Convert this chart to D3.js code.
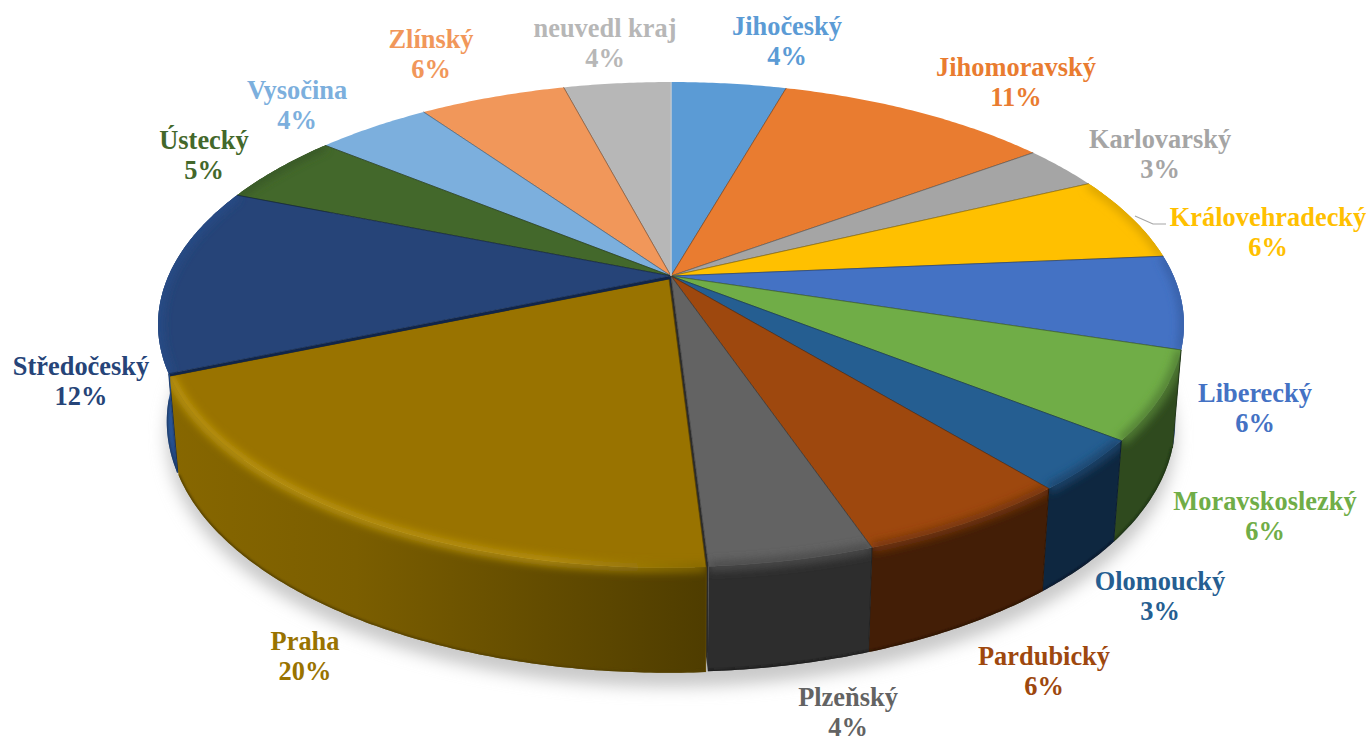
<!DOCTYPE html>
<html><head><meta charset="utf-8">
<script src="https://cdnjs.cloudflare.com/ajax/libs/d3/7.8.5/d3.min.js"></script>
<style>html,body{margin:0;padding:0;background:#fff;overflow:hidden}svg{display:block}</style>
</head><body><div id="chart"></div>
<script>
const categories=["Jihočeský","Jihomoravský","Karlovarský","Královehradecký","Liberecký","Moravskoslezký","Olomoucký","Pardubický","Plzeňský","Praha","Středočeský","Ústecký","Vysočina","Zlínský","neuvedl kraj"];
const shares=[4.4,10.5,3.0,5.7,6.2,5.8,3.4,5.7,4.3,19.6,12.4,4.8,4.4,5.6,4.1];
const topColors=["#5b9bd5","#e97c30","#a5a5a5","#ffc000","#4472c4","#70ad47","#255e91","#9e480e","#636363","#997300","#264478","#43682b","#7cafdd","#f1975a","#b7b7b7"];
const wallColors=["#3a6a95","#a05520","#707070","#b08500","#2a4a85","#2f4a1e","#0e2740","#431e06","#2d2d2d","#7f6000","#2a5596","#2c4520","#5a80a5","#a06a40","#808080"];
const labelCentres=[[787,36],[1016,77],[1160,149],[1268,227],[1255,403],[1265,511],[1160,591],[1044,666],[848,707],[305,651],[81,376],[204,150],[297,100],[431,49],[605,38]];

const W=1372,H=742,cx=671,cy=276,k=0.2,A=502.6,B=232.8;
const sx=d3.scaleLinear().domain([-1,1]).range([cx-A,cx+A]);
const sy=d3.scaleLinear().domain([-1,1]).range([cy+B,cy-B]);
const pie=d3.pie().sort(null).value(d=>d)(shares);
const TAU=Math.PI*2;
function topPt(a,r=1){const X=r*Math.sin(a),Y=r*Math.cos(a),w=1+k*Y;return [sx(X/w),sy(Y/w)];}
function botPt(a,r=1){const [x,y]=topPt(a,r);const Y=r*Math.cos(a);return [cx+(x-cx)*0.983,y+95-10*Y];}
const line=d3.line();
function arcPts(f,a0,a1,r=1){const n=Math.max(4,Math.ceil((a1-a0)/0.01));return d3.range(n+1).map(i=>f(a0+(a1-a0)*i/n,r));}
const svg=d3.select("#chart").append("svg").attr("width",W).attr("height",H);
const defs=svg.append("defs");
[["b1",1],["b3",4],["b9",8]].forEach(([id,s])=>{
  defs.append("filter").attr("id",id).attr("filterUnits","userSpaceOnUse")
    .attr("x",0).attr("y",0).attr("width",W).attr("height",H)
    .append("feGaussianBlur").attr("stdDeviation",s);
});
// drop shadow
const ring=arcPts(a=>{const p=botPt(a);return [p[0],p[1]+15];},0,TAU);
svg.append("path").attr("d",line(ring)+"Z").attr("fill","#c9c9c9").attr("filter","url(#b9)");

const PR=9; // index of the pulled slice
const offset=i=>i===PR?[-2,3]:[0,0];
const radius=i=>i===PR?0.994:1;
const front=d=>d.startAngle<5.3&&d.endAngle>1.2;
const wallVisible=a=>a>1.85&&a<4.6;

function wallD(d,r){
  return line(arcPts(topPt,d.startAngle,d.endAngle,r).concat(arcPts(botPt,d.startAngle,d.endAngle,r).reverse()))+"Z";
}
function topD(d,r){
  return line([[cx,cy]].concat(arcPts(topPt,d.startAngle,d.endAngle,r)))+"Z";
}
function grad(id,x1,x2,stops){
  const g=defs.append("linearGradient").attr("id",id).attr("gradientUnits","userSpaceOnUse")
    .attr("x1",x1).attr("x2",x2).attr("y1",0).attr("y2",0);
  stops.forEach(([o,c])=>g.append("stop").attr("offset",o).attr("stop-color",c));
}
grad("prahaWall",170,706,[[0,"#876700"],[.35,"#7b5e00"],[1,"#4f3d00"]]);
grad("prahaRim",170,706,[[0,"#bd960c"],[.7,"#b89210"],[1,"#846800"]]);
grad("stredoWall",157,180,[[0,"#1f4a8c"],[.5,"#2c5a9e"],[1,"#1b3c70"]]);

function drawSlice(parent,d,i){
  const [ox,oy]=offset(i),r=radius(i);
  const G=parent.append("g").attr("transform",`translate(${ox},${oy})`);
  const wallFill=i===PR?"url(#prahaWall)":i===10?"url(#stredoWall)":wallColors[i];
  if(front(d)){
    if(i===PR-1||i===PR+1){
      const a=i===PR-1?d.endAngle:d.startAngle;
      G.append("path").attr("d",line([[cx,cy],topPt(a),botPt(a),[cx,cy+100]])+"Z").attr("fill",i===PR-1?"#2b2b2b":"#12284c");
    }
    G.append("path").attr("d",wallD(d,r)).attr("fill",wallFill);
  }
  G.append("path").attr("d",topD(d,r)).attr("fill",topColors[i]);
  if(front(d)){
    const id="clip"+i;
    defs.append("clipPath").attr("id",id).append("path").attr("d",topD(d,r)+wallD(d,r));
    const C=G.append("g").attr("clip-path",`url(#${id})`);
    const rim=d3.interpolateRgb(topColors[i],wallColors[i])(.45);
    C.append("path").attr("d",line(arcPts(topPt,d.startAngle,d.endAngle,r)))
      .attr("fill","none").attr("stroke",i===PR?"url(#prahaRim)":rim)
      .attr("stroke-width",i===PR?9:10).attr("filter","url(#b3)");
    const a0=Math.max(d.startAngle,1.85),a1=Math.min(d.endAngle,4.6);
    if(a1>a0){
      C.append("path").attr("d",line(arcPts(botPt,a0,a1,r)))
        .attr("fill","none").attr("stroke",d3.color(wallColors[i]).darker(1.2))
        .attr("stroke-width",3).attr("filter","url(#b1)");
    }
    if(wallVisible(d.startAngle)){
      G.append("path").attr("d",line([topPt(d.startAngle,r),botPt(d.startAngle,r)]))
        .attr("stroke",d3.color(wallColors[i]).darker(.8)).attr("stroke-width",1).attr("fill","none");
    }
  }
  G.append("path").attr("d",line([topPt(d.startAngle,r),[cx,cy],topPt(d.endAngle,r)]))
    .attr("fill","none").attr("stroke",d3.color(topColors[i]).darker(1.5)).attr("stroke-opacity",.7).attr("stroke-width",1);
}
const gPie=svg.append("g");
const order=d3.range(pie.length).sort((a,b)=>{
  const m=i=>Math.cos((pie[i].startAngle+pie[i].endAngle)/2);
  return m(b)-m(a);
}).filter(i=>i!==PR);
order.forEach(i=>drawSlice(gPie,pie[i],i));
drawSlice(gPie,pie[PR],PR);
// dark line where Praha meets Středočeský
{const e=topPt(pie[PR].endAngle,radius(PR));
gPie.append("path").attr("d",line([[cx-2,cy+2],[e[0]-2,e[1]+2]]))
  .attr("stroke","#10254a").attr("stroke-width",2.4).attr("fill","none");}
// seam at twelve o'clock
gPie.append("path").attr("d",line([[cx,cy],topPt(0)])).attr("stroke","#e8e8e8").attr("stroke-width",1.2);

// leader for Královehradecký
svg.append("path").attr("d",line([[1135,216],[1153,224],[1166,224]]))
  .attr("fill","none").attr("stroke","#a6a6a6").attr("stroke-width",1.2);

const labels=svg.append("g").attr("font-family","'Liberation Serif',serif").attr("font-weight","700")
  .attr("font-size",26.4).attr("text-anchor","middle");
categories.forEach((c,i)=>{
  const [x,y]=labelCentres[i];
  const t=labels.append("text").attr("fill",topColors[i]).attr("x",x).attr("y",y);
  t.append("tspan").attr("x",x).attr("dy",-1).text(c);
  t.append("tspan").attr("x",x).attr("dy",30).text(Math.round(shares[i])+"%");
});
</script></body></html>
